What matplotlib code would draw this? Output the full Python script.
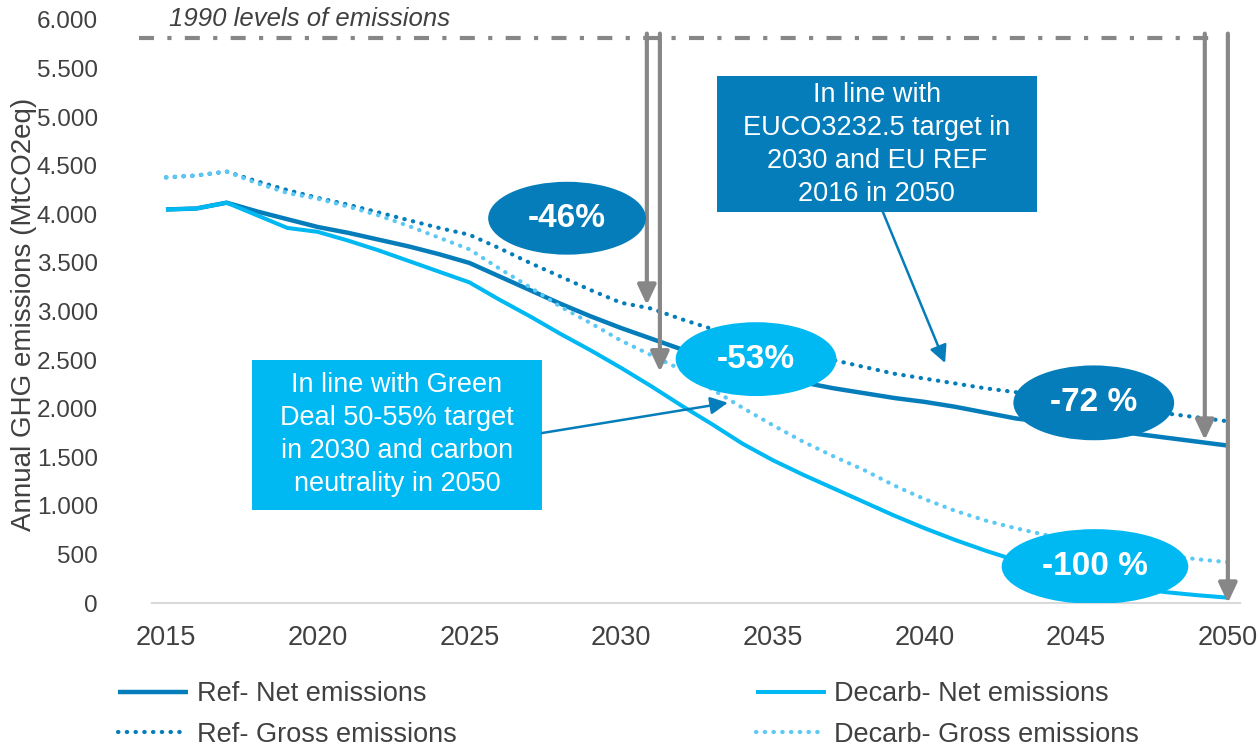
import matplotlib
matplotlib.use("Agg")
from matplotlib import pyplot as plt
from matplotlib.patches import Ellipse, Rectangle, FancyArrowPatch


# DATA (MtCO2eq)

years = list(range(2015, 2051))

ref_net = [4050, 4060, 4120, 4030, 3950, 3870, 3810, 3740, 3670, 3590,
           3500, 3360, 3220, 3080, 2950, 2830, 2720, 2610, 2500, 2400,
           2320, 2270, 2210, 2160, 2110, 2070, 2020, 1960, 1900, 1860,
           1820, 1780, 1740, 1700, 1660, 1620]

ref_gross = [4380, 4400, 4440, 4340, 4250, 4170, 4100, 4020, 3940, 3860,
             3790, 3650, 3500, 3360, 3220, 3090, 3030, 2920, 2820, 2720,
             2630, 2560, 2500, 2430, 2360, 2310, 2260, 2210, 2170, 2120,
             2080, 2040, 2000, 1950, 1910, 1870]

decarb_net = [4050, 4060, 4120, 3990, 3860, 3820, 3730, 3630, 3520, 3410,
              3300, 3120, 2950, 2770, 2600, 2420, 2230, 2030, 1840, 1640,
              1470, 1320, 1180, 1040, 900, 770, 650, 540, 440, 350,
              270, 200, 150, 110, 80, 55]

decarb_gross = [4380, 4400, 4440, 4320, 4220, 4160, 4080, 3990, 3880, 3760,
                3640, 3440, 3250, 3050, 2880, 2700, 2550, 2400, 2200, 2010,
                1830, 1660, 1510, 1370, 1210, 1070, 950, 850, 770, 700,
                640, 580, 530, 490, 450, 420]

series_labels = ["Ref- Net emissions", "Ref- Gross emissions",
                 "Decarb- Net emissions", "Decarb- Gross emissions"]

level_1990 = 5815
level_1990_label = "1990 levels of emissions"

y_ticks = list(range(0, 6001, 500))
x_ticks = list(range(2015, 2051, 5))

# reduction bubbles: label, centre year, centre value, width (yr), height
bubbles = [("-46%", 2028.22, 3960, 5.2, 750, "ref"),
           ("-53%", 2034.45, 2510, 5.3, 760, "dec"),
           ("-72 %", 2045.58, 2060, 5.3, 770, "ref"),
           ("-100 %", 2045.62, 375, 6.15, 770, "dec")]

# gray arrows from the 1990 line: year, value the arrow points at
drops = [(2030.85, 3067), (2031.28, 2380), (2049.24, 1677), (2050.0, 0)]

box_ref_text = "In line with\nEUCO3232.5 target in\n2030 and EU REF\n2016 in 2050"
box_dec_text = "In line with Green\nDeal 50-55% target\nin 2030 and carbon\nneutrality in 2050"


# STYLE

DARK = "#047DBA"
CYAN = "#00B9F2"
LIGHT = "#5CC9F5"
GRAY = "#878787"
TEXT = "#404040"

plt.rcParams["font.family"] = ["Liberation Sans", "DejaVu Sans"]

W, H = 1257, 748
fig = plt.figure(figsize=(W / 100, H / 100), dpi=100)
ax = fig.add_axes([152 / W, 1 - 603 / H, (1240 - 152) / W, (603 - 20) / H])

dotted = (0, (0.1, 2.0))
h_rn, = ax.plot(years, ref_net, color=DARK, lw=3.2, solid_capstyle="butt", zorder=3)
h_rg, = ax.plot(years, ref_gross, color=DARK, lw=3, linestyle=dotted,
                dash_capstyle="round", zorder=3)
h_dn, = ax.plot(years, decarb_net, color=CYAN, lw=2.9, solid_capstyle="butt", zorder=3)
h_dg, = ax.plot(years, decarb_gross, color=LIGHT, lw=3, linestyle=dotted,
                dash_capstyle="round", zorder=3)

ax.set_xlim(2014.54, 2050.4)
ax.set_ylim(0, 6000)
ax.set_xticks(x_ticks)
ax.set_xticklabels([str(x) for x in x_ticks])
ax.set_yticks(y_ticks)
ax.set_yticklabels([f"{v:,}".replace(",", ".") for v in y_ticks])
ax.tick_params(axis="both", length=0, colors=TEXT)
ax.tick_params(axis="x", pad=16, labelsize=19.5)
ax.tick_params(axis="y", pad=39, labelsize=17.5)
for s in ["left", "top", "right"]:
    ax.spines[s].set_visible(False)
ax.spines["bottom"].set_color("#D9D9D9")
ax.spines["bottom"].set_linewidth(1.5)

fig.text(24 / W, 1 - 314 / H, "Annual GHG emissions (MtCO2eq)", rotation=90,
         ha="center", va="center", fontsize=20, color=TEXT)

# 1990 level
ax.plot([2014.1, 2049.6], [level_1990, level_1990], color=GRAY, lw=3,
        linestyle=(0, (3.6, 3.2, 1.0, 3.2)), clip_on=False, zorder=2)
ax.text(2015.1, 6010, level_1990_label, style="italic", fontsize=18.5, color=TEXT,
        ha="left", va="center")

for x, y in drops:
    ax.add_patch(FancyArrowPatch((x, 5860), (x, y),
                                 arrowstyle="-|>,head_length=0.6,head_width=0.28",
                                 mutation_scale=20, color=GRAY, lw=3,
                                 shrinkA=0, shrinkB=0, zorder=4, clip_on=False))

for label, cx, cy, w, h, kind in bubbles:
    col = DARK if kind == "ref" else CYAN
    ax.add_patch(Ellipse((cx, cy), w, h, facecolor=col, edgecolor="none", zorder=5))
    ax.text(cx, cy, label, ha="center", va="center", color="white",
            fontsize=24, fontweight="bold", zorder=6)

# text boxes with pointers
ax.add_patch(Rectangle((2033.16, 4024), 10.55, 1399, facecolor=DARK,
                       edgecolor="none", zorder=5))
ax.text(2038.43, 4723, box_ref_text, ha="center", va="center", color="white",
        fontsize=19.5, linespacing=1.35, zorder=6)
ax.add_patch(FancyArrowPatch((2038.63, 4024), (2040.68, 2470),
                             arrowstyle="-|>,head_length=0.7,head_width=0.35",
                             mutation_scale=15, color=DARK, lw=1.8,
                             shrinkA=0, shrinkB=0, zorder=5))

ax.add_patch(Rectangle((2017.83, 957), 9.56, 1544, facecolor=CYAN,
                       edgecolor="none", zorder=5))
ax.text(2022.61, 1729, box_dec_text, ha="center", va="center", color="white",
        fontsize=19.5, linespacing=1.35, zorder=6)
ax.add_patch(FancyArrowPatch((2027.39, 1749), (2033.52, 2061),
                             arrowstyle="-|>,head_length=0.7,head_width=0.35",
                             mutation_scale=15, color=DARK, lw=1.8,
                             shrinkA=0, shrinkB=0, zorder=5))

leg = fig.legend([h_rn, h_rg, h_dn, h_dg], series_labels, ncol=2, loc="upper left",
                 bbox_to_anchor=(118 / W, 1 - 681 / H), frameon=False, fontsize=19.5,
                 handlelength=2.6, handletextpad=0.3, columnspacing=11.05,
                 labelspacing=0.55, borderpad=0, borderaxespad=0)
for t in leg.get_texts():
    t.set_color(TEXT)

fig.savefig("out.png", dpi=100)
